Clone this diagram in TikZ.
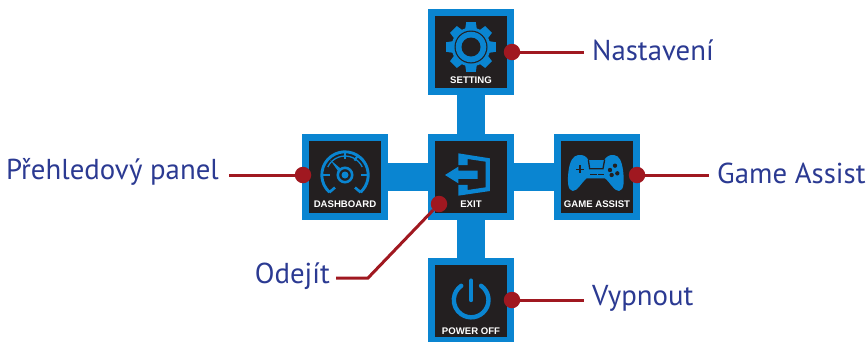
\documentclass[tikz,border=0pt]{standalone}
\usepackage{fontspec}
\setmainfont{PT Sans}
\newfontfamily\capfont{Liberation Sans}
\usetikzlibrary{calc}
\definecolor{bblue}{HTML}{0A85D1}
\definecolor{bdark}{HTML}{231F20}
\definecolor{bred}{HTML}{A01820}
\definecolor{tblue}{HTML}{2B3A92}
\tikzset{
 x=1pt,y=-1pt,
 menubox/.style={draw=bblue,fill=bdark,line width=7pt,minimum width=79pt,minimum height=79pt,inner sep=0pt,outer sep=3.5pt},
 bluelink/.style={bblue,line width=28pt},
 redlink/.style={bred,line width=3pt},
 reddot/.style={circle,fill=bred,minimum size=16.5pt,inner sep=0pt},
 lbl/.style={text=tblue,font=\fontsize{28.8}{30}\selectfont,inner ysep=0pt,inner xsep=8pt},
 captxt/.style={text=white,font=\capfont\fontsize{9.6}{10}\selectfont\bfseries,inner sep=0pt},
}
\begin{document}
\begin{tikzpicture}
\useasboundingbox (0,0) rectangle (868,341);
\node[menubox] (setting) at (471,52) {};
\node[menubox] (dash) at (345,177) {};
\node[menubox] (exit) at (471,177) {};
\node[menubox] (game) at (597,177) {};
\node[menubox] (power) at (471,301) {};
\draw[bluelink] (setting) -- (exit);
\draw[bluelink] (exit) -- (power);
\draw[bluelink] (dash) -- (exit);
\draw[bluelink] (exit) -- (game);
% captions
\node[captxt] (tsetting) at (471,80) {SETTING};
\node[captxt] (tdash) at (345,204.5) {DASHBOARD};
\node[captxt] (texit) at (471,204.5) {EXIT};
\node[captxt] (tgame) at (597,204.5) {GAME ASSIST};
\node[captxt] (tpower) at (471,331) {POWER OFF};
% gear
\begin{scope}[shift={(471,47)}]
 \foreach \a in {0,45,...,315}{
  \fill[bblue,rotate=\a] (-5.8,-18) -- (-4.8,-24.8) -- (4.8,-24.8) -- (5.8,-18) -- cycle;
 }
 \fill[bblue] (0,0) circle[radius=19.5];
 \fill[bdark] (0,0) circle[radius=16.5];
 \fill[bblue] (0,0) circle[radius=15.3];
 \fill[bdark] (0,0) circle[radius=9.5];
\end{scope}
% dashboard
\begin{scope}[shift={(345,175)}]
 \draw[bblue,line width=2.9pt] (132:23.2) arc[start angle=132,end angle=408,radius=23.2];
 \draw[bblue,line width=1.3pt] (205:19) arc[start angle=205,end angle=335,radius=19];
 \draw[bblue,line width=2.6pt] (-15.7,17.4) -- (-10,12.5);
 \draw[bblue,line width=2.6pt] (15.7,17.4) -- (10,12.5);
 \draw[bblue,line width=2.2pt] (-23,0) -- (-15.5,0);
 \draw[bblue,line width=2.2pt] (23,0) -- (15.5,0);
 \draw[bblue,line width=2.2pt] (0,-23) -- (0,-16);
 \draw[bblue,line width=2.2pt] (12.5,-19) -- (9.5,-14.5);
 \fill[bblue] (-15,-15.5) -- (-4.5,-6.5) -- (-7,-4) -- cycle;
 \draw[bblue,line width=2.6pt] (0,0) circle[radius=7.2];
 \fill[bblue] (0,0) circle[radius=3.5];
\end{scope}
% exit
\begin{scope}[shift={(420,125)},x=0.3333pt,y=-0.3333pt]
 \fill[bblue] (115,85) -- (210,100) -- (210,198) -- (115,212) -- (115,180) -- (143,180) -- (143,195) -- (197,187) -- (197,110) -- (143,102) -- (143,120) -- (115,120) -- cycle;
 \fill[bblue] (75,150) -- (115,125) -- (115,137) -- (173,137) -- (173,162) -- (115,162) -- (115,175) -- cycle;
\end{scope}
% game pad
\begin{scope}[shift={(545,125)},x=0.3333pt,y=-0.3333pt]
 \fill[bblue] (100,90) .. controls (115,88) and (125,95) .. (130,105) -- (178,105) .. controls (183,95) and (195,88) .. (207,90) .. controls (224,92) and (230,110) .. (234,135) .. controls (238,165) and (238,197) .. (222,198) .. controls (208,199) and (195,172) .. (180,160) -- (125,160) .. controls (110,172) and (97,199) .. (83,198) .. controls (67,197) and (67,165) .. (71,135) .. controls (75,110) and (83,92) .. (100,90) -- cycle;
 \draw[bdark,line width=1.3pt] (130,104) -- (134,131) -- (174,131) -- (179,104);
 \draw[bdark,line width=1.4pt] (93,133) -- (117,133);
 \draw[bdark,line width=1.4pt] (105,121) -- (105,145);
 \draw[bdark,line width=1.1pt] (135,149) -- (155,149);
 \draw[bdark,line width=1.1pt] (160,149) -- (178,149);
 \foreach \p in {(210,122),(195,135),(217,145),(200,150)}{\fill[bdark] \p circle[radius=6.5];}
\end{scope}
% power
\begin{scope}[shift={(420,250)},x=0.3333pt,y=-0.3333pt]
 \draw[bblue,line width=4.4pt,line cap=round] (153.5,150) ++(-55:52) arc[start angle=-55,end angle=235,radius=52];
 \draw[bblue,line width=4.4pt,line cap=round] (153.5,92) -- (153.5,150);
\end{scope}
% red dots and labels
\node[reddot] (dsetting) at (512,52) {};
\node[reddot] (ddash) at (303,175) {};
\node[reddot] (dexit) at (439,204) {};
\node[reddot] (dgame) at (637,175) {};
\node[reddot] (dpower) at (512,300) {};
\node[lbl,anchor=west] (lsetting) at (584,50) {Nastavení};
\node[lbl,anchor=east] (ldash) at (227,172) {Přehledový panel};
\node[lbl,anchor=east] (lexit) at (338,276) {Odejít};
\node[lbl,anchor=west] (lgame) at (709,173) {Game Assist};
\node[lbl,anchor=west] (lpower) at (584,298) {Vypnout};
\coordinate (bend) at (368,278);
\coordinate (exitend) at (336,278);
\draw[redlink] (dsetting) -- (584,52);
\draw[redlink] (ddash) -- (229,175);
\draw[redlink] (dexit) -- (bend) -- (exitend);
\draw[redlink] (dgame) -- (709,175);
\draw[redlink] (dpower) -- (584,300);
\end{tikzpicture}
\end{document}
